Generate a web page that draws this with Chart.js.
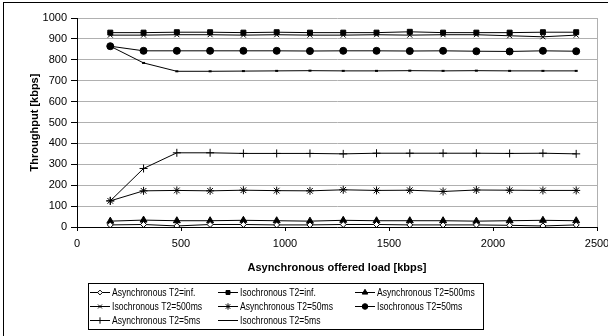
<!DOCTYPE html>
<html>
<head>
<meta charset="utf-8">
<script src="https://cdn.jsdelivr.net/npm/chart.js"></script>
<style>
  body { margin: 0; background: #fff; }
  #wrap { position: relative; width: 608px; height: 336px; overflow: hidden; }
  #frame { position: absolute; left: 3px; top: 2px; width: 700px; height: 400px; border: 1px solid #000; box-sizing: border-box; }
  canvas { position: absolute; left: 0; top: 0; }
</style>
</head>
<body>
<div id="wrap">
  <div id="frame"></div>
  <canvas id="myChart" width="608" height="336"></canvas>
</div>
<script>
// offered load (x axis), kbps
const load = [160, 320, 480, 640, 800, 960, 1120, 1280, 1440, 1600, 1760, 1920, 2080, 2240, 2400];

// throughput per series, kbps
const asyncInf  = [10, 12, 5, 12, 12, 10, 10, 12, 12, 10, 10, 10, 8, 5, 10];
const isoInf    = [930, 930, 932, 932, 930, 932, 930, 930, 930, 934, 930, 930, 930, 932, 932];
const async500  = [28, 33, 30, 30, 32, 30, 28, 32, 30, 30, 30, 28, 30, 32, 30];
const iso500    = [918, 918, 920, 920, 918, 920, 918, 918, 920, 918, 920, 920, 915, 910, 918];
const async50   = [125, 173, 175, 173, 176, 174, 173, 178, 175, 176, 170, 177, 176, 175, 175];
const iso50     = [865, 843, 843, 843, 843, 843, 842, 843, 843, 842, 843, 841, 840, 843, 841];
const async5    = [125, 280, 355, 355, 352, 352, 352, 350, 353, 353, 353, 353, 352, 353, 350];
const iso5      = [865, 785, 745, 745, 746, 747, 748, 747, 747, 748, 747, 748, 747, 747, 747];

const seriesNames = [
  "Asynchronous T2=inf.", "Isochronous T2=inf.", "Asynchronous T2=500ms",
  "Isochronous T2=500ms", "Asynchronous T2=50ms", "Isochronous T2=50ms",
  "Asynchronous T2=5ms", "Isochronous T2=5ms"
];
const seriesValues = [asyncInf, isoInf, async500, iso500, async50, iso50, async5, iso5];
const markers = [
  { style: "rectRot",  r: 3,   fill: "#fff" },
  { style: "rect",     r: 3.5, fill: "#000" },
  { style: "triangle", r: 4,   fill: "#000" },
  { style: "crossRot", r: 3.5, fill: "#000" },
  { style: "star",     r: 4,   fill: "#000" },
  { style: "circle",   r: 3.5, fill: "#000" },
  { style: "cross",    r: 4,   fill: "#000" },
  { style: "line",     r: 1.5, fill: "#000" }
];

const xTicks = { min: 0, max: 2500, step: 500 };
const yTicks = { min: 0, max: 1000, step: 100 };

const datasets = seriesNames.map(function (name, i) {
  return {
    label: name,
    data: seriesValues[i].map(function (v, j) { return { x: load[j], y: v }; }),
    borderColor: "#000",
    borderWidth: 1,
    tension: 0,
    fill: false,
    pointStyle: markers[i].style,
    pointRadius: markers[i].r,
    pointBackgroundColor: markers[i].fill,
    pointBorderColor: "#000",
    pointBorderWidth: i == 7 ? 2 : 1
  };
});

// legend box under the axis title, 3 columns
const boxLegend = {
  id: "boxLegend",
  afterDraw(chart) {
    const ctx = chart.ctx;
    const left = 88, top = 283, w = 395, h = 46;
    const colX = [90, 218, 355];
    const rowY = [292, 306, 320];
    ctx.save();
    ctx.strokeStyle = "#000";
    ctx.lineWidth = 1;
    ctx.strokeRect(left + 0.5, top + 0.5, w, h);
    ctx.font = "10px 'Liberation Sans', Arial, sans-serif";
    ctx.textBaseline = "middle";
    chart.data.datasets.forEach(function (ds, i) {
      const x = colX[i % 3], y = rowY[Math.floor(i / 3)];
      ctx.strokeStyle = "#000";
      ctx.lineWidth = 1;
      ctx.beginPath();
      ctx.moveTo(x, y + 0.5);
      ctx.lineTo(x + 20, y + 0.5);
      ctx.stroke();
      ctx.fillStyle = ds.pointBackgroundColor;
      Chart.helpers.drawPoint(ctx, {
        pointStyle: ds.pointStyle, radius: ds.pointRadius * 0.8,
        borderWidth: ds.pointBorderWidth, rotation: 0
      }, x + 10, y + 0.5);
      // squeezed text, the original legend font is narrow
      ctx.save();
      ctx.translate(x + 22, y + 1);
      ctx.scale(0.86, 1);
      ctx.fillStyle = "#000";
      ctx.fillText(ds.label, 0, 0);
      ctx.restore();
    });
    ctx.restore();
  }
};

const plainNum = function (v) { return String(v); };

new Chart(document.getElementById("myChart"), {
  type: "line",
  data: { datasets: datasets },
  plugins: [boxLegend],
  options: {
    responsive: false,
    animation: false,
    devicePixelRatio: 1,
    layout: { padding: { top: 18, right: 11, left: 0, bottom: 0 } },
    plugins: { legend: { display: false }, tooltip: { enabled: false } },
    scales: {
      x: {
        type: "linear",
        min: xTicks.min, max: xTicks.max,
        ticks: { stepSize: xTicks.step, color: "#000", padding: 6, maxRotation: 0, callback: plainNum,
                 font: { family: "'Liberation Sans', Arial, sans-serif", size: 11 } },
        grid: {
          color: function (c) { return c.tick && c.tick.value == xTicks.max ? "#b0b0b0" : "rgba(0,0,0,0)"; },
          tickColor: "#000", tickLength: 4
        },
        border: { color: "#000", width: 1 },
        title: {
          display: true, text: "Asynchronous offered load [kbps]", color: "#000",
          font: { family: "'Liberation Sans', Arial, sans-serif", size: 11, weight: "bold" },
          padding: { top: 0, bottom: 61 }
        },
        afterFit: function (s) { s.height = 109; s.paddingLeft = 0; s.paddingRight = 0; }
      },
      y: {
        min: yTicks.min, max: yTicks.max,
        ticks: { stepSize: yTicks.step, color: "#000", padding: 4, callback: plainNum,
                 font: { family: "'Liberation Sans', Arial, sans-serif", size: 11 } },
        grid: { color: "#b0b0b0", tickColor: "#000", tickLength: 6 },
        border: { color: "#000", width: 1 },
        title: {
          display: true, text: "Throughput [kbps]", color: "#000",
          font: { family: "'Liberation Sans', Arial, sans-serif", size: 11, weight: "bold" },
          padding: { top: 28, bottom: 0 }
        },
        afterFit: function (s) { s.width = 77; }
      }
    }
  }
});
</script>
</body>
</html>
